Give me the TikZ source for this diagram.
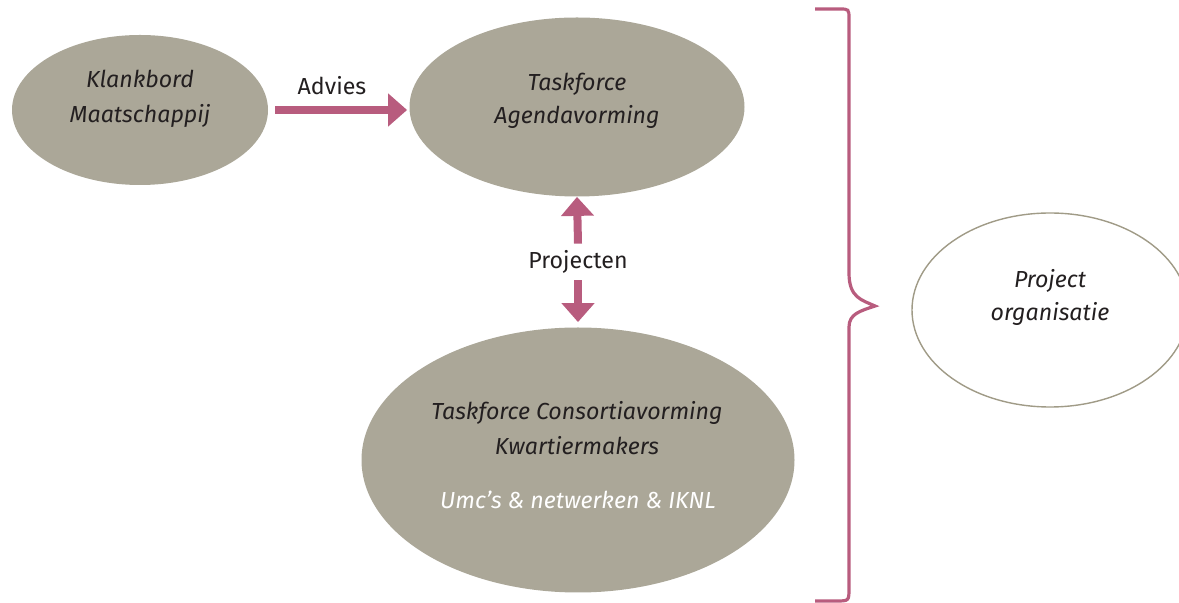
\documentclass[tikz,border=0pt]{standalone}
\usepackage{fontspec}
\setmainfont{Fira Sans}
\usetikzlibrary{shapes.geometric,arrows.meta}
\definecolor{taupe}{RGB}{171,167,152}
\definecolor{taupedonker}{RGB}{160,155,135}
\definecolor{roze}{RGB}{184,92,126}
\definecolor{tekst}{RGB}{35,31,32}

\begin{document}
\begin{tikzpicture}[x=0.5pt,y=-0.5pt,
  bol/.style={ellipse,fill=taupe,inner sep=0pt},
  label/.style={text=tekst,font=\fontsize{11.6}{17.5}\selectfont\itshape,align=center},
  pijl/.style={roze,line width=4pt,-{Triangle[width=16pt,length=9.5pt]}}]
\path[use as bounding box,clip] (0,0) rectangle (1179,603);

% de vier ellipsen
\node[bol,minimum width=128pt,minimum height=75pt] (klankbord) at (140,110) {};
\node[bol,minimum width=167.5pt,minimum height=89.5pt] (agenda) at (577,107) {};
\node[bol,minimum width=216.5pt,minimum height=132.5pt] (consortia) at (578,460) {};
\node[ellipse,draw=taupedonker,line width=0.7pt,fill=white,inner sep=0pt,minimum width=138pt,minimum height=97pt] (organisatie) at (1050,310) {};

\node[label] (tklankbord) at (140,99) {Klankbord\\Maatschappij};
\node[label,font=\fontsize{11.6}{16.5}\selectfont\itshape] (tagenda) at (577,101) {Taskforce\\Agendavorming};
\node[label] (tconsortia) at (577,428) {Taskforce Consortiavorming\\Kwartiermakers};
\node[label,text=white] (tumc) at (578,500) {Umc’s \& netwerken \& IKNL};
\node[label,font=\fontsize{11.6}{16.5}\selectfont\itshape] (torganisatie) at (1050,297) {Project\\organisatie};

% pijlen
\draw[pijl,shorten <=3.5pt,shorten >=1pt] (klankbord.east) -- (klankbord.east -| agenda.west);
\node[text=tekst,font=\fontsize{11.6}{13}\selectfont] (advies) at (332,86) {Advies};
\node[text=tekst,font=\fontsize{11.6}{13}\selectfont,inner sep=0pt,minimum height=18pt] (projecten) at (578,262) {Projecten};
\draw[pijl] (projecten.north) -- (agenda.south);
\draw[pijl] (projecten.south) -- ([yshift=2.5pt]consortia.north);

% accolade
\draw[roze,line width=1.6pt] (815,9) -- (839,9) .. controls (849,9) .. (849,19) -- (849,273)
  .. controls (849,298) and (862,300) .. (875,306)
  .. controls (860,311) and (849,314) .. (849,327) -- (849,588)
  .. controls (849,601) .. (836,601) -- (815,601);
\end{tikzpicture}
\end{document}
